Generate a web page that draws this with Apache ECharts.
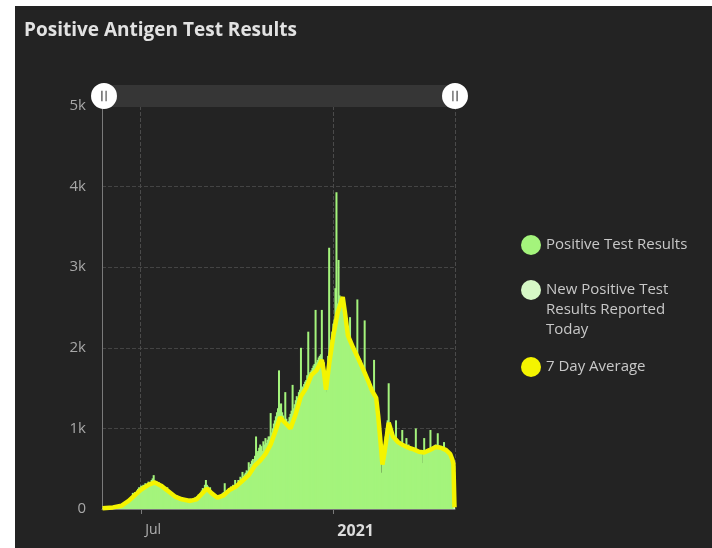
<!DOCTYPE html>
<html>
<head>
<meta charset="utf-8">
<script src="https://cdn.jsdelivr.net/npm/echarts@6/dist/echarts.min.js"></script>
<style>
  html, body { margin: 0; padding: 0; background: #ffffff; }
  #panel { position: absolute; left: 15px; top: 6px; width: 697px; height: 542px; background: #232323; }
  #chart { position: absolute; left: 0; top: 0; width: 712px; height: 548px; }
</style>
</head>
<body>
<div id="panel"></div>
<div id="chart"></div>
<script>
// daily positive antigen results, starting 2020-05-25
const startDate = '2020-05-25'
const posValues = [
  5, 8, 12, 10, 15, 6, 4, 14, 18, 20,
  22, 16, 10, 25, 30, 28, 35, 45, 40, 30,
  45, 60, 70, 85, 100, 120, 110, 140, 160, 200,
  180, 210, 190, 230, 250, 270, 240, 290, 280, 300,
  260, 320, 310, 290, 340, 330, 300, 360, 380, 420,
  350, 320, 340, 300, 330, 290, 270, 310, 260, 240,
  250, 220, 270, 230, 200, 190, 210, 170, 180, 160,
  150, 170, 140, 130, 120, 140, 110, 100, 120, 105,
  95, 110, 100, 90, 130, 115, 100, 120, 135, 150,
  140, 160, 180, 150, 200, 230, 260, 250, 300, 360,
  300, 280, 240, 270, 210, 190, 170, 150, 130, 160,
  140, 170, 150, 130, 180, 200, 210, 320, 190, 230,
  220, 260, 240, 280, 250, 300, 270, 360, 290, 300,
  360, 340, 400, 380, 460, 410, 430, 450, 480, 470,
  580, 520, 560, 600, 620, 580, 660, 900, 700, 720,
  760, 800, 780, 720, 840, 800, 880, 820, 860, 900,
  900, 1190, 950, 1000, 1060, 1100, 1150, 1200, 1250, 1720,
  1300, 1310, 1200, 1160, 1100, 1450, 1120, 1080, 1090, 1140,
  1180, 1220, 1540, 1250, 1300, 1350, 1400, 1380, 1450, 1480,
  2000, 1520, 1500, 1550, 1580, 1600, 1660, 2200, 1680, 1700,
  1720, 1750, 1780, 1800, 2470, 1820, 1850, 1880, 1900, 1920,
  2470, 1850, 1820, 1500, 1450, 1600, 1900, 3240, 2000, 2100,
  2200, 2300, 2350, 2740, 3930, 2550, 3090, 2650, 2600, 2620,
  2630, 2600, 2500, 2400, 2300, 2200, 2150, 2380, 2100, 2050,
  2000, 1980, 1950, 1920, 2600, 1900, 1870, 1850, 1800, 1780,
  1750, 2340, 1700, 1650, 1620, 1600, 1580, 1550, 1500, 1480,
  1850, 1420, 1380, 1300, 1200, 1000, 880, 450, 560, 700,
  800, 900, 1000, 1100, 1560, 1050, 980, 950, 900, 880,
  860, 1100, 840, 820, 800, 790, 780, 980, 770, 760,
  800, 880, 760, 800, 740, 750, 740, 760, 730, 720,
  1000, 720, 710, 700, 690, 700, 570, 720, 880, 710,
  720, 730, 740, 750, 980, 760, 770, 780, 790, 800,
  780, 940, 790, 780, 770, 760, 750, 830, 740, 730,
  720, 700, 690, 680, 660, 630, 600, null
]
const todayDate = '2021-04-27'
const todayValue = 560

// 7 day average read at these dates
const avgDates = [
  '2020-05-25', '2020-06-04', '2020-06-12', '2020-06-19', '2020-06-24', '2020-07-01', '2020-07-08',
  '2020-07-14', '2020-07-20', '2020-07-27', '2020-08-03', '2020-08-09', '2020-08-17', '2020-08-23',
  '2020-08-29', '2020-09-02', '2020-09-06', '2020-09-12', '2020-09-18', '2020-09-24', '2020-09-30',
  '2020-10-06', '2020-10-12', '2020-10-18', '2020-10-23', '2020-10-28', '2020-11-02', '2020-11-07',
  '2020-11-11', '2020-11-15', '2020-11-21', '2020-11-26', '2020-12-01', '2020-12-06', '2020-12-11',
  '2020-12-16', '2020-12-21', '2020-12-23', '2020-12-25', '2020-12-28', '2021-01-01', '2021-01-05',
  '2021-01-10', '2021-01-12', '2021-01-15', '2021-01-20', '2021-01-24', '2021-01-29', '2021-02-03',
  '2021-02-07', '2021-02-11', '2021-02-13', '2021-02-15', '2021-02-17', '2021-02-19', '2021-02-23',
  '2021-02-27', '2021-03-04', '2021-03-09', '2021-03-14', '2021-03-19', '2021-03-24', '2021-03-29',
  '2021-04-03', '2021-04-09', '2021-04-14', '2021-04-19', '2021-04-23', '2021-04-25', '2021-04-26',
  '2021-04-27'
]
const avgValues = [
  10, 20, 40, 100, 160, 240, 300,
  330, 290, 220, 150, 120, 100, 120,
  200, 255, 200, 140, 170, 240, 280,
  350, 420, 540, 600, 680, 800, 980,
  1140, 1080, 1000, 1180, 1400, 1500, 1660,
  1720, 1850, 1700, 1480, 1800, 2150, 2430,
  2630, 2450, 2150, 2000, 1890, 1750, 1600,
  1470, 1380, 1150, 860, 550, 700, 1070,
  900, 830, 790, 760, 740, 710, 700,
  730, 770, 760, 730, 680, 610, 560,
  20
]

const tickDates = ['2020-07-01', '2021-01-01']

function pad(n) { return n < 10 ? '0' + n : '' + n }
const days = []
const d0 = new Date(startDate + 'T00:00:00Z')
for (let i = 0; i < posValues.length; i++) {
  const d = new Date(d0.getTime() + i * 86400000)
  days.push(d.getUTCFullYear() + '-' + pad(d.getUTCMonth() + 1) + '-' + pad(d.getUTCDate()))
}
const isTick = (idx, val) => tickDates.indexOf(val) >= 0

const fontFamily = '"Open Sans", Lato, sans-serif'
const legendText = { color: '#c8c8c8', fontSize: 15, fontFamily: fontFamily }
// white knob with two grip lines cut out
const knob = 'path://M50,0 A50,50 0 1,1 50,100 A50,50 0 1,1 50,0 Z M40,30 L40,70 L44,70 L44,30 Z M56,30 L56,70 L60,70 L60,30 Z'

const chart = echarts.init(document.getElementById('chart'))
chart.setOption({
  backgroundColor: 'transparent',
  animation: false,
  title: {
    text: 'Positive Antigen Test Results',
    left: 19,
    top: 16,
    textStyle: { color: '#e2e2e2', fontSize: 19, fontWeight: 'bold', fontFamily: fontFamily }
  },
  legend: [
    {
      data: ['Positive Test Results'],
      orient: 'vertical', left: 516, top: 230,
      icon: 'circle', itemWidth: 20, itemHeight: 20, itemGap: 8,
      textStyle: legendText
    },
    {
      data: ['New Positive Test Results Reported Today'],
      orient: 'vertical', left: 516, top: 235,
      icon: 'circle', itemWidth: 20, itemHeight: 20, itemGap: 8,
      formatter: () => '\n\nNew Positive Test\nResults Reported\nToday',
      textStyle: Object.assign({ lineHeight: 20 }, legendText)
    },
    {
      data: ['7 Day Average'],
      orient: 'vertical', left: 516, top: 352,
      icon: 'circle', itemWidth: 20, itemHeight: 20, itemGap: 8,
      textStyle: legendText
    }
  ],
  grid: { left: 102, right: 257, top: 106, bottom: 39 },
  dataZoom: [{
    type: 'slider',
    xAxisIndex: 0,
    filterMode: 'none',
    top: 85,
    height: 22,
    left: 102,
    right: 257,
    backgroundColor: '#333333',
    fillerColor: 'rgba(60,60,60,0.4)',
    borderColor: 'transparent',
    showDataShadow: false,
    showDetail: false,
    brushSelect: false,
    moveHandleSize: 0,
    handleIcon: knob,
    handleSize: '118%',
    handleStyle: { color: '#ffffff', borderColor: '#d0d0d0', borderWidth: 0 },
    dataBackground: { lineStyle: { opacity: 0 }, areaStyle: { opacity: 0 } },
    selectedDataBackground: { lineStyle: { opacity: 0 }, areaStyle: { opacity: 0 } }
  }],
  xAxis: {
    type: 'category',
    data: days,
    boundaryGap: true,
    axisLine: { lineStyle: { color: '#7a7a7a' } },
    axisTick: { show: true, interval: isTick, alignWithLabel: true, length: 5, lineStyle: { color: '#7a7a7a' } },
    axisLabel: {
      interval: isTick,
      margin: 14,
      align: 'left',
      padding: [0, 0, 0, 4],
      color: '#b0b0b0',
      fontSize: 14,
      fontFamily: fontFamily,
      formatter: v => v === '2021-01-01' ? '{y|2021}' : 'Jul',
      rich: { y: { fontWeight: 'bold', color: '#dcdcdc', fontSize: 16, fontFamily: fontFamily } }
    },
    splitLine: { show: true, interval: isTick, lineStyle: { color: '#4a4a4a', type: 'dashed' } }
  },
  yAxis: {
    type: 'value',
    min: 0,
    max: 5000,
    interval: 1000,
    axisLine: { show: true, lineStyle: { color: '#7a7a7a' } },
    axisTick: { show: false },
    axisLabel: {
      color: '#a8a8a8', fontSize: 15, fontFamily: fontFamily, margin: 16,
      formatter: v => v === 0 ? '0' : (v / 1000) + 'k'
    },
    splitLine: { lineStyle: { color: '#444444', type: 'dashed' } }
  },
  series: [
    {
      name: 'Positive Test Results',
      type: 'bar',
      data: posValues,
      barWidth: 2,
      barGap: '-100%',
      itemStyle: { color: '#a4f47c' }
    },
    {
      name: 'New Positive Test Results Reported Today',
      type: 'bar',
      data: [[todayDate, todayValue]],
      barWidth: 2,
      barGap: '-100%',
      itemStyle: { color: '#d6f8c6' }
    },
    {
      name: '7 Day Average',
      type: 'line',
      data: avgDates.map((d, i) => [d, avgValues[i]]),
      symbol: 'none',
      lineStyle: { color: '#f4f400', width: 4.5 },
      itemStyle: { color: '#f4f400' },
      z: 3
    }
  ]
})
</script>
</body>
</html>
